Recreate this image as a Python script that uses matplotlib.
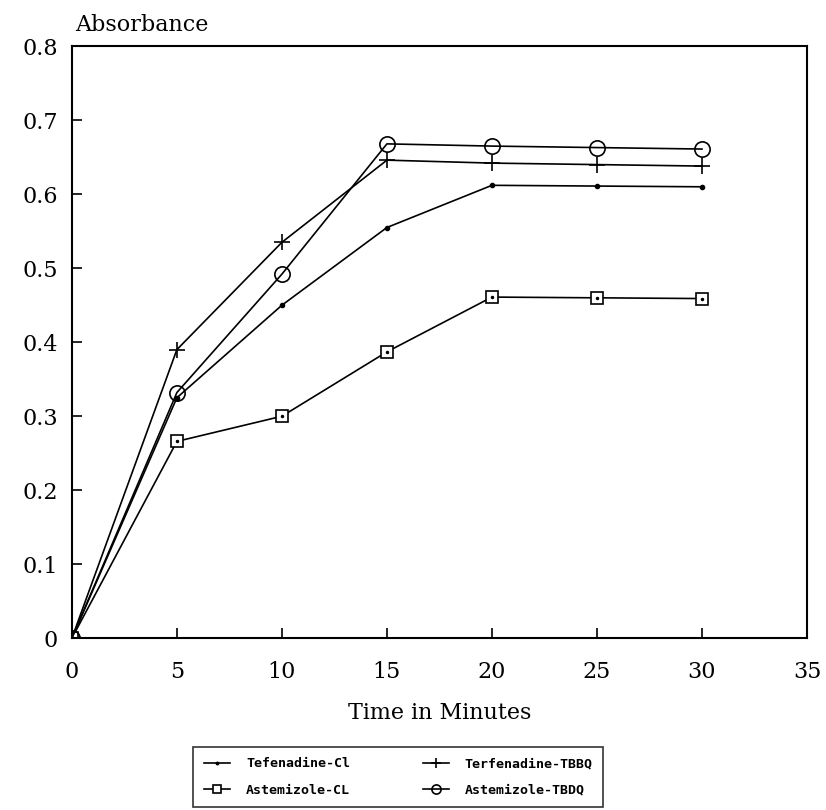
import matplotlib.pyplot as plt

# time points (minutes)
time_min = [0, 5, 10, 15, 20, 25, 30]

# absorbance readings
tef_cl = [0, 0.325, 0.450, 0.555, 0.612, 0.611, 0.610]
terf_tbbq = [0, 0.390, 0.535, 0.646, 0.642, 0.640, 0.638]
ast_cl = [0, 0.266, 0.300, 0.387, 0.461, 0.460, 0.459]
ast_tbdq = [0, 0.332, 0.492, 0.668, 0.665, 0.663, 0.661]

labels = ["Tefenadine-Cl", "Astemizole-CL", "Terfenadine-TBBQ", "Astemizole-TBDQ"]

plt.rcParams["font.family"] = "DejaVu Serif"

fig = plt.figure(figsize=(8.26, 8.10), dpi=100)
ax = fig.add_axes([0.087, 0.212, 0.890, 0.731])

lw = 1.2
(l_tef,) = ax.plot(time_min, tef_cl, "k-", lw=lw, marker="o", ms=3)
(l_ast,) = ax.plot(time_min, ast_cl, "k-", lw=lw, marker="s", ms=9,
                   mfc="white", mec="k", mew=1.2)
ax.plot(time_min[1:], ast_cl[1:], "k.", ms=3)
(l_terf,) = ax.plot(time_min, terf_tbbq, "k-", lw=lw, marker="+", ms=12, mew=1.2)
(l_astt,) = ax.plot(time_min, ast_tbdq, "k-", lw=lw, marker="o", ms=11,
                    mfc="none", mec="k", mew=1.2)

ax.set_xlim(0, 35)
ax.set_ylim(0, 0.8)
ax.set_xticks([0, 5, 10, 15, 20, 25, 30, 35])
ax.set_xticklabels(["0", "5", "10", "15", "20", "25", "30", "35"])
ax.set_yticks([0, 0.1, 0.2, 0.3, 0.4, 0.5, 0.6, 0.7, 0.8])
ax.set_yticklabels(["0", "0.1", "0.2", "0.3", "0.4", "0.5", "0.6", "0.7", "0.8"])
ax.tick_params(direction="in", length=7, width=1.2, labelsize=16)
ax.tick_params(axis="x", pad=16)
ax.tick_params(axis="y", pad=10)
for s in ax.spines.values():
    s.set_linewidth(1.5)

ax.set_xlabel("Time in Minutes", fontsize=16, labelpad=14)
ax.text(0.005, 1.018, "Absorbance", transform=ax.transAxes, fontsize=16,
        ha="left", va="bottom")

leg = fig.legend([l_tef, l_ast, l_terf, l_astt], labels, ncol=2,
                 loc="upper left", bbox_to_anchor=(0.226, 0.086),
                 frameon=True, fancybox=False, edgecolor="k",
                 handlelength=2.0, handletextpad=1.2, columnspacing=5.5,
                 prop={"family": "DejaVu Sans Mono", "weight": "bold", "size": 9.5},
                 markerscale=0.6, borderpad=0.8, labelspacing=1.0)
leg.get_frame().set_linewidth(1.2)

fig.savefig("out.png", dpi=100)
